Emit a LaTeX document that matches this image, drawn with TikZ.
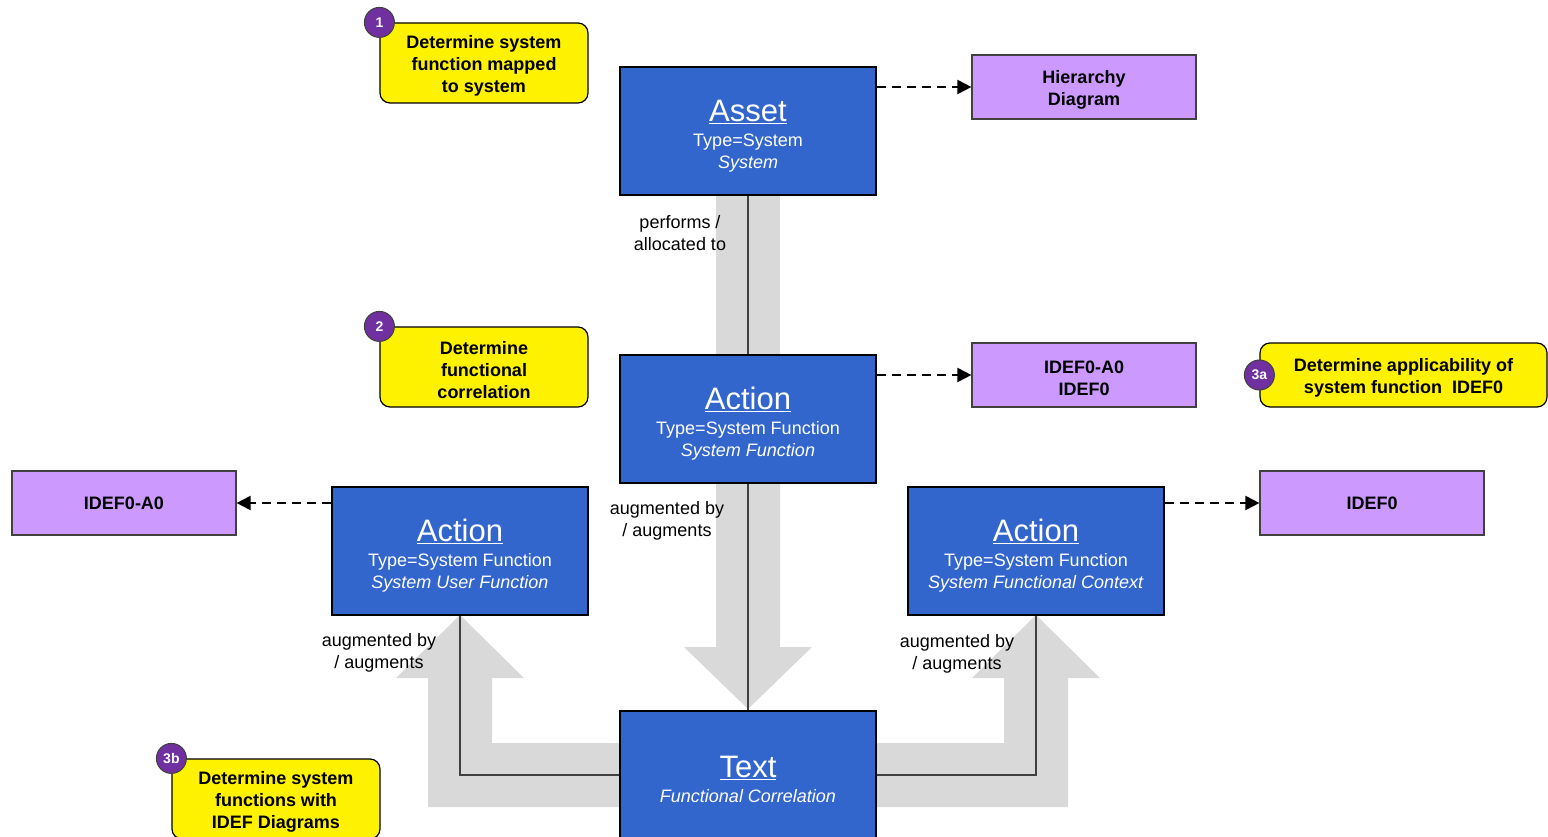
\documentclass[tikz,border=0pt]{standalone}
\usepackage{fontspec}
\setmainfont{Liberation Sans}
\usetikzlibrary{arrows.meta,backgrounds}
\definecolor{boxblue}{HTML}{3366CC}
\definecolor{docpurple}{HTML}{CC99FF}
\definecolor{badgepurple}{HTML}{7030A0}
\definecolor{bandgray}{HTML}{D9D9D9}
\definecolor{linegray}{HTML}{404040}
\tikzset{
	entity/.style={rectangle, draw=black, line width=2pt, fill=boxblue, text=white, minimum width=256pt, minimum height=128pt, align=center, font=\fontsize{18}{22}\selectfont},
	doc/.style={rectangle, draw=linegray, line width=1.2pt, fill=docpurple, minimum width=224pt, minimum height=64pt, align=center, font=\fontsize{18}{22}\selectfont\bfseries},
	stepbox/.style={rectangle, rounded corners=10pt, draw=black, line width=1.2pt, fill=yellow, minimum width=208pt, minimum height=80pt, align=center, font=\fontsize{18}{22}\selectfont\bfseries},
	badge/.style={circle, draw=linegray, line width=1pt, fill=badgepurple, text=white, minimum size=30pt, inner sep=0pt, font=\fontsize{14}{14}\selectfont\bfseries},
	rel/.style={align=center, font=\fontsize{18}{22}\selectfont},
	conn/.style={draw=linegray, line width=2pt},
	dasharr/.style={line width=2pt, dash pattern=on 9pt off 6pt, -{Triangle[length=14pt,width=14pt]}},
	band/.style={fill=bandgray, draw=none}
}
\newcommand{\ttl}[1]{{\fontsize{31}{34}\selectfont\rule{0pt}{31pt}\underline{#1}}\\[3pt]}
\newcommand{\fl}{\rule{0pt}{19pt}}
\begin{document}
\begin{tikzpicture}[x=1pt, y=-1pt]
%		\draw[help lines] (0,0) grid[step=100pt] (1548,837);
		\useasboundingbox (0,0) rectangle (1548,837);
		% objects
		\node[entity] (asset) at (748,131) {\ttl{Asset}Type=System\\\textit{System}};
		\node[entity] (act) at (748,419) {\ttl{Action}Type=System Function\\\textit{System Function}};
		\node[entity] (actL) at (460,551) {\ttl{Action}Type=System Function\\\textit{System User Function}};
		\node[entity] (actR) at (1036,551) {\ttl{Action}Type=System Function\\\textit{System Functional Context}};
		\node[entity] (txt) at (748,775) {\ttl{Text}\textit{Functional Correlation}};
		% documents
		\node[doc] (hier) at (1084,87) {\fl Hierarchy\\Diagram};
		\node[doc] (idefA) at (1084,375) {\fl IDEF0-A0\\IDEF0};
		\node[doc] (idefL) at (124,503) {IDEF0-A0};
		\node[doc] (idefR) at (1372,503) {IDEF0};
		% steps
		\node[stepbox] (s1) at (484,63) {\fl Determine system\\function mapped\\to system};
		\node[stepbox] (s2) at (484,367) {\fl Determine\\functional\\correlation};
		\node[stepbox, minimum width=287pt, minimum height=64pt] (s3a) at (1403.5,375) {\fl Determine applicability of\\system function\ \ IDEF0};
		\node[stepbox] (s3b) at (276,799) {\fl Determine system\\functions with\\IDEF Diagrams};
		\node[badge] (b1) at (s1.north west) {1};
		\node[badge] (b2) at (s2.north west) {2};
		\node[badge] (b3a) at (s3a.west) {3a};
		\node[badge] (b3b) at (s3b.north west) {3b};
		% gray arrows
		\begin{pgfonlayer}{background}
		\fill[band] (716,195) rectangle (780,355);
		\fill[band] (716,483) -- (716,647) -- (684,647) -- (748,709) -- (812,647) -- (780,647) -- (780,483) -- cycle;
		\fill[band] (620,743) -- (492,743) -- (492,678) -- (524,678) -- (460,615) -- (396,678) -- (428,678) -- (428,807) -- (620,807) -- cycle;
		\fill[band] (876,743) -- (1004,743) -- (1004,678) -- (972,678) -- (1036,615) -- (1100,678) -- (1068,678) -- (1068,807) -- (876,807) -- cycle;
		\end{pgfonlayer}
		% relations
		\draw[conn] (asset) -- (act);
		\draw[conn] (act) -- (txt);
		\draw[conn] (txt) -| (actL);
		\draw[conn] (txt) -| (actR);
		\node[rel] (r1) at (680,233) {performs /\\allocated to};
		\node[rel] (r2) at (667,521) {augmented by\\/ augments};
		\node[rel] (r3) at (379,653) {augmented by\\/ augments};
		\node[rel] (r4) at (957,654) {augmented by\\/ augments};
		% documents links
		\draw[dasharr] (asset.east |- hier.west) -- (hier.west);
		\draw[dasharr] (act.east |- idefA.west) -- (idefA.west);
		\draw[dasharr] (actL.west |- idefL.east) -- (idefL.east);
		\draw[dasharr] (actR.east |- idefR.west) -- (idefR.west);
	\end{tikzpicture}
\end{document}
